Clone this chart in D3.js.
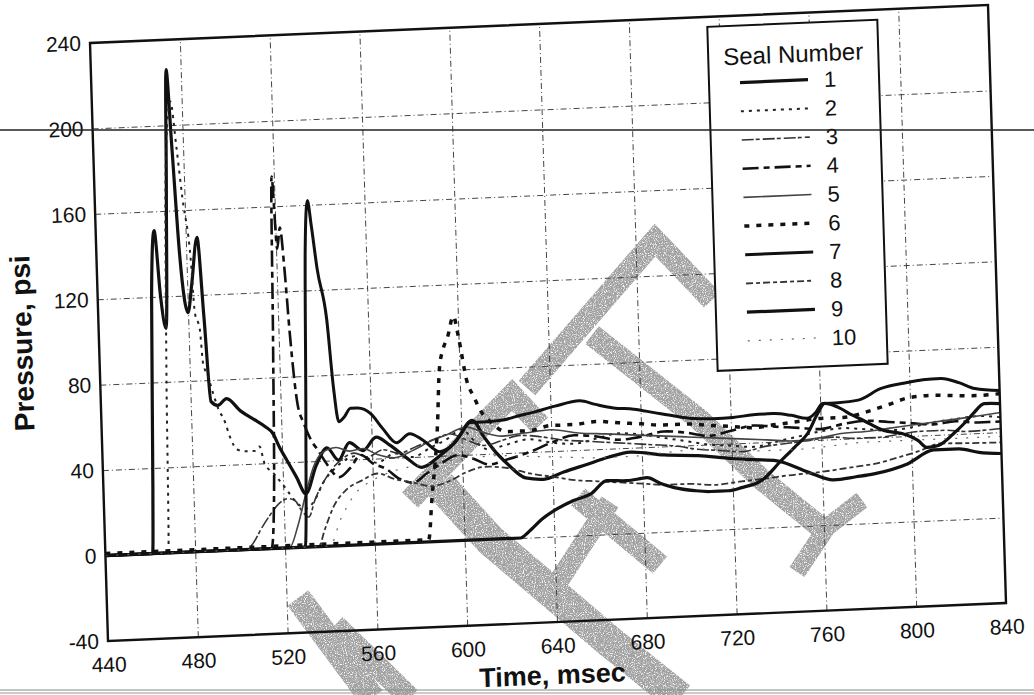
<!DOCTYPE html>
<html>
<head>
<meta charset="utf-8">
<script src="https://cdn.jsdelivr.net/npm/d3@7"></script>
<style>
  html, body { margin: 0; padding: 0; background: #fff; }
  svg { display: block; font-family: "Liberation Sans", Arial, sans-serif; }
</style>
</head>
<body>
<svg id="chart" width="1034" height="695"></svg>
<script>
// ---- data: seal pressure traces, [time (msec), pressure (psi)] ----
const seal1 = [[440,0],[461,0],[462,30],[464,120],[466,151],[468,120],[470,105],[472,170],[473.5,226],[475,190],[477,140],[480,112],[482,125],[485,147],[487,110],[489,70],[492,68],[496,71],[502,65],[506,62],[509,60],[513,57],[516,54],[519,47],[522,41],[526,33],[530,25],[535,38],[540,46],[545,40],[550,48],[556,44],[562,50],[568,46],[575,40],[582,35],[590,40],[597,46],[605,56],[610,48],[614,42],[620,35],[628,28],[636,27],[645,30],[655,33],[665,36],[675,38],[690,36],[705,35],[720,33],[730,32],[740,31],[754,25],[765,21],[775,22],[783,23],[798,27],[810,33],[821,33],[830,31],[840,30]];
const seal2 = [[440,0],[468,0],[469.5,80],[472,180],[475,211],[477,190],[479,166],[482,135],[483,112],[485,104],[486,88],[488,82],[490,74],[492,67],[495,60],[497,53],[500,47],[504,46],[508,46],[510,48],[512,40],[516,35],[521,28],[525,22],[530,18],[534,22],[538,30],[543,36],[548,40],[555,42],[562,38],[570,42],[578,40],[586,44],[594,48],[600,52],[606,46],[612,42],[620,44],[630,46],[640,44],[650,43],[660,45],[670,47],[680,46],[690,44],[700,42],[710,40],[720,39],[730,38],[740,40],[750,42],[760,44],[770,45],[780,44],[790,43],[800,44],[810,46],[820,47],[830,48],[840,47]];
const seal3 = [[440,0],[503,0],[506,3],[510,10],[514,16],[518,21],[522,23],[525,22],[528,17],[531,14],[534,22],[538,30],[542,36],[546,40],[552,43],[558,41],[565,44],[572,42],[580,45],[588,48],[595,50],[602,47],[610,44],[618,46],[626,48],[635,47],[645,45],[655,44],[665,43],[675,42],[685,41],[695,40],[705,38],[715,37],[725,36],[735,38],[745,39],[755,40],[765,41],[775,40],[785,40],[795,41],[805,42],[815,42],[825,41],[840,41.7]];
const seal4 = [[440,0],[514,0],[516,30],[517.5,100],[519,174],[520.5,140],[522,150],[523.5,130],[525,100],[527.5,67],[530,58],[533,50],[536,45],[540,38],[545,32],[550,36],[555,42],[560,38],[566,35],[572,30],[578,28],[584,32],[590,36],[598,40],[605,38],[612,35],[620,37],[630,40],[640,44],[650,47],[660,46],[670,44],[680,45],[690,47],[700,46],[710,44],[720,46],[730,48],[740,47],[750,46],[760,45],[770,47],[780,48],[790,47],[800,46],[810,45],[820,46],[830,45],[840,45]];
const seal5 = [[440,0],[522,0],[526,10],[530,25],[534,38],[538,44],[544,46],[550,44],[556,45],[562,42],[570,40],[578,43],[586,47],[594,50],[602,53],[610,50],[618,48],[628,49],[640,50],[652,48],[664,47],[676,46],[688,45],[700,44],[712,43],[724,42],[736,41],[748,40],[760,41],[770,42.6],[780,43],[790,44],[800,45],[810,46],[820,47],[830,48],[840,49.2]];
const seal6 = [[440,1],[584,1],[586,20],[589.5,55],[591,80],[593,90],[595,95],[598,105],[600,95],[603,75],[606,67],[609,60],[613,55],[620,50],[630,50],[640,52],[650,52],[660,53],[670,52],[680,51],[690,50],[700,50],[710,49],[720,48],[730,47],[740,48],[750,49],[760,50],[770,50],[780,52],[790,55],[800,58],[810,58.6],[820,58],[830,57.6],[840,58]];
const seal7 = [[440,0],[529,0],[531,60],[533,140],[534.6,162],[536,150],[538,130],[541.6,106],[543.7,74],[545.6,58],[548,60],[551,64],[554,64],[560,61],[565,54],[571,47],[577,51],[583,47.5],[590,42],[596,45],[600,50],[604,55],[610,55],[618,55.4],[625,57],[632,58.5],[642,61],[653,63],[660,61],[668,59],[677,58],[686,56],[695,54],[704,52.4],[712,52],[721,52.2],[730,53],[739,53.2],[747,52],[754,50.3],[758,53],[761,56.9],[768,57],[777,57.8],[787,62.7],[799,65.1],[806,66],[814,66.3],[822,64],[829,60.9],[840,59.5]];
const seal8 = [[440,0],[535,0],[538,8],[542,18],[548,26],[555,30],[562,33],[570,30],[578,28],[586,26],[594,28],[602,32],[610,34],[620,33],[630,30],[640,28],[650,26],[660,25],[670,24],[680,23],[690,22],[700,22],[712,21],[723,22],[735,23],[745,24],[760,25],[773,26.5],[785,28],[794,30.2],[804,33],[813,35.9],[825,35.5],[840,35.2]];
const seal9 = [[440,0],[625,0],[626,0.5],[630,4],[634,7.8],[640,12],[649,16.5],[657,19.4],[664,25.1],[673,24.7],[682,25.7],[688,22.7],[694,20.5],[703,18.7],[710,18],[718,18],[724,19.2],[733,22.2],[742,31.1],[748,37],[754,43.2],[759,52.8],[762,56.9],[768,54.8],[774,51],[779,48.2],[788,43.1],[796,41.3],[803,37.8],[807,34.3],[812,35],[819,40.3],[824,45],[828,49.3],[833,53.7],[840,53.4]];
const seal10 = [[440,0],[540,0],[545,12],[552,24],[560,30],[570,34],[580,36],[590,37],[600,38],[615,39],[630,38],[645,37],[660,36],[675,36],[690,37],[705,38],[720,37],[735,36],[750,36],[765,37],[780,38],[795,38],[810,38],[825,38],[840,38]];

const sealNames = ["1","2","3","4","5","6","7","8","9","10"];
const sealData = [seal1, seal2, seal3, seal4, seal5, seal6, seal7, seal8, seal9, seal10];

const xTicks = [440,480,520,560,600,640,680,720,760,800,840];
const yTicks = [-40,0,40,80,120,160,200,240];

// ---- line styles for each seal ----
const styles = [
  {w: 3.2, c: "#111", dash: null},
  {w: 2.0, c: "#222", dash: "3,5"},
  {w: 1.6, c: "#333", dash: "12,2,4,3"},
  {w: 2.6, c: "#111", dash: "16,5,6,5"},
  {w: 1.6, c: "#444", dash: null},
  {w: 3.5, c: "#111", dash: "5,7"},
  {w: 3.0, c: "#111", dash: null},
  {w: 1.8, c: "#333", dash: "7,3,4,3"},
  {w: 3.2, c: "#111", dash: null},
  {w: 1.2, c: "#666", dash: "2,9"}
];

const W = 898, H = 598;
const svg = d3.select("#chart");
svg.append("rect").attr("width", 1034).attr("height", 695).attr("fill", "#fff");

// grainy stamp texture
const defs = svg.append("defs");
const f = defs.append("filter").attr("id", "grain").attr("x", "-5%").attr("y", "-5%").attr("width", "110%").attr("height", "110%");
f.append("feTurbulence").attr("type", "fractalNoise").attr("baseFrequency", "0.9").attr("numOctaves", 2).attr("seed", 3).attr("result", "n");
f.append("feColorMatrix").attr("in", "n").attr("type", "matrix")
  .attr("values", "0 0 0 0 0.36  0 0 0 0 0.36  0 0 0 0 0.36  3.4 0 0 0 -0.75").attr("result", "spk");
f.append("feComposite").attr("in", "spk").attr("in2", "SourceGraphic").attr("operator", "in");

// faint stamped lettering behind the plot
const stamp = [
  {w: 22, p: [[527,388],[655,240],[712,300]]},
  {w: 22, p: [[592,335],[700,420],[760,478],[830,535]]},
  {w: 18, p: [[797,572],[827,527],[862,500]]},
  {w: 22, p: [[410,500],[512,395],[540,425]]},
  {w: 32, p: [[440,485],[490,540],[555,595],[610,642],[680,698]]},
  {w: 22, p: [[578,497],[660,565]]},
  {w: 20, p: [[553,590],[610,502]]},
  {w: 26, p: [[298,598],[372,698]]},
  {w: 22, p: [[335,625],[410,698]]}
];
const stampG = svg.append("g").attr("filter", "url(#grain)");
stamp.forEach(s => {
  stampG.append("path")
    .attr("d", d3.line()(s.p))
    .attr("fill", "none").attr("stroke", "#000").attr("stroke-width", s.w)
    .attr("stroke-linejoin", "miter");
});

// chart group; the printed page sits slightly tilted
const g = svg.append("g").attr("transform", "matrix(1,-0.0423,0.0301,1,90,43)");

const x = d3.scaleLinear().domain([440, 840]).range([0, W]);
const y = d3.scaleLinear().domain([-40, 240]).range([H, 0]);

// gridlines
const gridStyle = sel => {
  sel.select(".domain").remove();
  sel.selectAll("line").attr("stroke", "#333").attr("stroke-width", 0.9).attr("stroke-dasharray", "6,3,1,3");
  sel.selectAll("text").remove();
};
g.append("g").call(d3.axisLeft(y).tickValues(yTicks.filter(v => v > -40 && v < 240)).tickSize(-W)).call(gridStyle);
g.append("g").attr("transform", `translate(0,${H})`)
  .call(d3.axisBottom(x).tickValues(xTicks.filter(v => v > 440 && v < 840)).tickSize(-H)).call(gridStyle);

// tick labels (plain hyphen for negatives)
const plain = d => String(d);
const yAxis = g.append("g").call(d3.axisLeft(y).tickValues(yTicks).tickFormat(plain).tickSize(0).tickPadding(9));
yAxis.select(".domain").remove();
yAxis.selectAll("text").attr("font-size", 21).attr("fill", "#111").attr("font-family", "Liberation Sans, Arial, sans-serif");
const xAxis = g.append("g").attr("transform", `translate(0,${H})`)
  .call(d3.axisBottom(x).tickValues(xTicks).tickFormat(plain).tickSize(0).tickPadding(16));
xAxis.select(".domain").remove();
xAxis.selectAll("text").attr("font-size", 21).attr("fill", "#111").attr("font-family", "Liberation Sans, Arial, sans-serif");

// axis titles
g.append("text").attr("x", 443).attr("y", 660).attr("text-anchor", "middle")
  .attr("font-size", 27).attr("font-weight", "bold").attr("fill", "#111").text("Time, msec");
g.append("text").attr("transform", "translate(-67,297) rotate(-90)").attr("text-anchor", "middle")
  .attr("font-size", 28).attr("font-weight", "bold").attr("fill", "#111").text("Pressure, psi");

// series
const line = d3.line().x(d => x(d[0])).y(d => y(d[1])).curve(d3.curveMonotoneX);
const plot = g.append("g");
sealData.forEach((data, i) => {
  const s = styles[i];
  plot.append("path").datum(data)
    .attr("d", line)
    .attr("fill", "none").attr("stroke", s.c).attr("stroke-width", s.w)
    .attr("stroke-dasharray", s.dash).attr("stroke-linejoin", "round");
});

// plot frame
g.append("rect").attr("x", 0).attr("y", 0).attr("width", W).attr("height", H)
  .attr("fill", "none").attr("stroke", "#111").attr("stroke-width", 2.4);

// legend
const lg = g.append("g").attr("transform", "translate(617,10)");
lg.append("rect").attr("width", 170).attr("height", 344).attr("fill", "#fff").attr("stroke", "#111").attr("stroke-width", 2);
lg.append("text").attr("x", 85).attr("y", 39).attr("text-anchor", "middle")
  .attr("font-size", 24).attr("fill", "#111").text("Seal Number");
sealNames.forEach((name, i) => {
  const yy = 57 + i * 28.7;
  const s = styles[i];
  lg.append("line").attr("x1", 31).attr("x2", 99).attr("y1", yy).attr("y2", yy)
    .attr("stroke", s.c).attr("stroke-width", s.w).attr("stroke-dasharray", s.dash);
  lg.append("text").attr("x", 115).attr("y", yy).attr("dy", "0.36em")
    .attr("font-size", 22).attr("fill", "#111").text(name);
});

// ruled lines of the page
svg.append("line").attr("x1", 0).attr("x2", 1034).attr("y1", 130).attr("y2", 130)
  .attr("stroke", "#222").attr("stroke-width", 1.4);
svg.append("line").attr("x1", 0).attr("x2", 1034).attr("y1", 690).attr("y2", 690)
  .attr("stroke", "#888").attr("stroke-width", 1);
svg.append("line").attr("x1", 0).attr("x2", 1034).attr("y1", 693).attr("y2", 693)
  .attr("stroke", "#999").attr("stroke-width", 1);
</script>
</body>
</html>
